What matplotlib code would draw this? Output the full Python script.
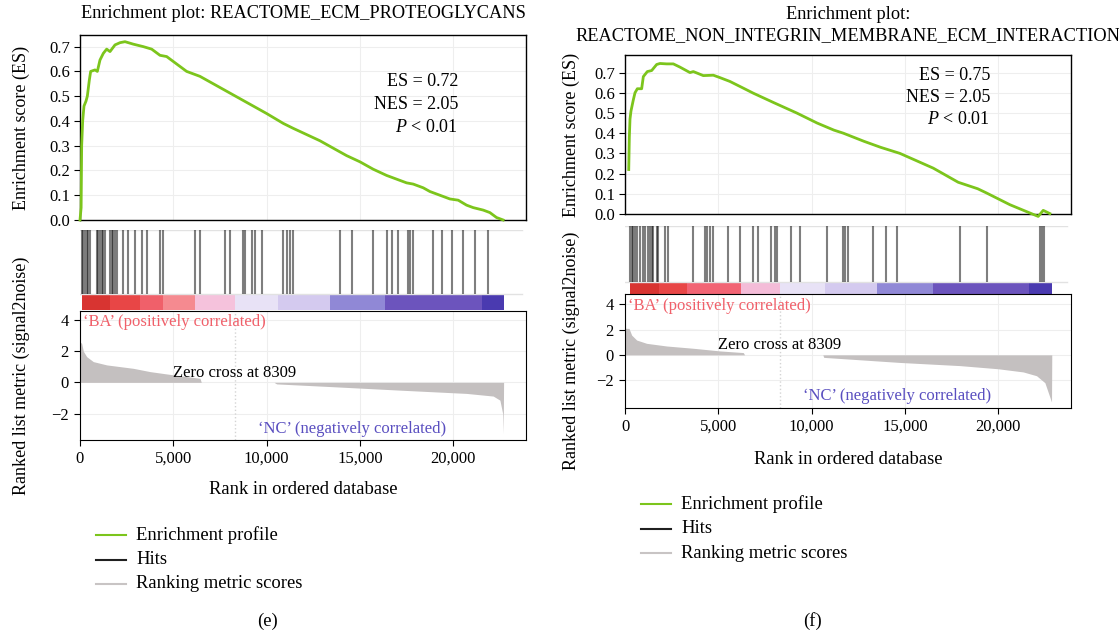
import matplotlib
matplotlib.use("Agg")
import matplotlib.pyplot as plt
from matplotlib.lines import Line2D

plt.rcParams['font.family'] = ['Liberation Serif', 'DejaVu Serif']
plt.rcParams['mathtext.fontset'] = 'custom'
plt.rcParams['mathtext.rm'] = 'Liberation Serif'
plt.rcParams['mathtext.it'] = 'Liberation Serif:italic'

# ---------------- data: panel (e) ----------------
e_title = "Enrichment plot: REACTOME_ECM_PROTEOGLYCANS"
e_stats = ["ES = 0.72", "NES = 2.05", r"$P$ < 0.01"]
e_es_rank = [0, 60, 89, 143, 214, 321, 393, 500, 571, 804, 929, 1071, 1250, 1429, 1607, 1875,
             2143, 2411, 2857, 3393, 3839, 4286, 4643, 5000, 5714, 6429, 7143, 7857, 8571, 9286,
             10000, 10893, 11429, 12143, 12857, 13571, 14286, 15000, 15714, 16429, 16964, 17500,
             17857, 18393, 18750, 19286, 19821, 20268, 20714, 21071, 21607, 21964, 22321, 22679]
e_es = [0.0, 0.05, 0.30, 0.40, 0.46, 0.48, 0.50, 0.565, 0.60, 0.606, 0.60, 0.646, 0.673, 0.69,
        0.68, 0.707, 0.716, 0.72, 0.71, 0.70, 0.69, 0.665, 0.66, 0.64, 0.60, 0.58, 0.55, 0.52,
        0.49, 0.46, 0.43, 0.39, 0.37, 0.345, 0.32, 0.29, 0.26, 0.235, 0.205, 0.18, 0.165, 0.15,
        0.145, 0.13, 0.115, 0.10, 0.085, 0.08, 0.06, 0.05, 0.04, 0.03, 0.01, 0.0]
e_hits = [89, 179, 268, 357, 446, 536, 893, 982, 1071, 1161, 1250, 1339, 1607, 1696, 1786, 1875,
          1964, 2321, 2589, 2946, 3304, 3571, 4286, 4464, 6161, 6429, 7768, 8036, 8750, 8839,
          9196, 9375, 9732, 10893, 11071, 11250, 11429, 13929, 14554, 15714, 16429, 16696, 17054,
          17589, 17679, 17857, 18929, 19375, 19911, 20536, 21161, 21875]
e_pos_rank = [0, 89, 179, 357, 714, 1429, 2857, 3750, 4643, 5714, 6429, 6500]
e_pos_val = [2.6, 2.5, 2.0, 1.65, 1.33, 1.12, 0.9, 0.69, 0.54, 0.37, 0.26, 0.0]
e_neg_rank = [10400, 10536, 13571, 17143, 20714, 22143, 22500, 22650, 22679, 22700]
e_neg_val = [0.0, -0.1, -0.28, -0.5, -0.71, -0.88, -1.14, -2.0, -3.3, 0.0]
e_bar_edges = [89, 1600, 3214, 4464, 6161, 8304, 10625, 13393, 16339, 21518, 22714]
e_bar_colors = ['#d83431', '#e84646', '#f0606a', '#f58a90', '#f5c2dc', '#e8e2f6', '#d4caef',
                '#9088d6', '#6c54bd', '#4a3ab0']
e_es_ylim = (0, 0.747)
e_rk_ylim = (-3.7, 4.58)

# ---------------- data: panel (f) ----------------
f_title = "Enrichment plot:\nREACTOME_NON_INTEGRIN_MEMBRANE_ECM_INTERACTION"
f_stats = ["ES = 0.75", "NES = 2.05", r"$P$ < 0.01"]
f_es_rank = [200, 232, 268, 321, 446, 536, 661, 893, 982, 1196, 1429, 1696, 1875, 2232, 2589,
             2946, 3482, 3661, 4196, 4732, 5089, 5625, 6339, 6875, 8000, 9200, 10300, 11200,
             11700, 12800, 13700, 14732, 16518, 17857, 18900, 19375, 20625, 22143, 22411, 22768]
f_es = [0.22, 0.38, 0.47, 0.51, 0.565, 0.60, 0.62, 0.62, 0.68, 0.705, 0.71, 0.74, 0.745, 0.743,
        0.743, 0.727, 0.70, 0.705, 0.685, 0.687, 0.675, 0.656, 0.623, 0.598, 0.55, 0.50, 0.45,
        0.415, 0.40, 0.36, 0.33, 0.30, 0.227, 0.157, 0.125, 0.104, 0.046, -0.012, 0.018, 0.002]
f_hits = [268, 357, 446, 536, 625, 804, 946, 1071, 1250, 1339, 1429, 1518, 1696, 1786, 2143,
          2321, 3661, 4286, 4375, 4554, 4732, 5536, 6161, 6875, 7143, 7848, 8036, 8132, 8903,
          9375, 10821, 11689, 11786, 11973, 13303, 13982, 14590, 17946, 19375, 22232, 22339, 22441]
f_pos_rank = [0, 214, 357, 625, 1161, 2232, 3661, 5089, 6339, 6407]
f_pos_val = [2.1, 2.09, 1.56, 1.17, 0.91, 0.70, 0.52, 0.31, 0.18, 0.0]
f_neg_rank = [10600, 10650, 12589, 14732, 17946, 20000, 21339, 22054, 22500, 22857, 22870]
f_neg_val = [0.0, -0.2, -0.39, -0.6, -0.85, -1.1, -1.35, -1.65, -2.2, -3.73, 0.0]
f_bar_edges = [263, 1800, 3332, 6214, 8325, 10725, 13511, 16489, 21670, 22857]
f_bar_colors = ['#d83431', '#e84646', '#f26474', '#f4bcd8', '#e8e2f6', '#d4caef', '#9088d6',
                '#6c54bd', '#4a3ab0']
f_es_ylim = (0, 0.787)
f_rk_ylim = (-4.2, 4.77)

x_ticks = [0, 5000, 10000, 15000, 20000]
x_ticklabels = ['0', '5,000', '10,000', '15,000', '20,000']
es_ticks = [0.0, 0.1, 0.2, 0.3, 0.4, 0.5, 0.6, 0.7]
rk_ticks = [-2, 0, 2, 4]
rk_ticklabels = ['\u22122', '0', '2', '4']
zero_cross = 8309
x_max = 23900
legend_labels = ["Enrichment profile", "Hits", "Ranking metric scores"]
legend_colors = ['#7cc51c', '#202020', '#c8c4c4']

GREEN = '#7cc51c'
BA_COLOR = '#f0606a'
NC_COLOR = '#5a4fc0'
FILL = '#c4c0c0'
GRID = '#eeeeee'
FS = 12

W, H = 1119, 635
fig = plt.figure(figsize=(W / 100, H / 100), dpi=100)


def rect(x0, y0, x1, y1):
    return [x0 / W, 1 - y1 / H, (x1 - x0) / W, (y1 - y0) / H]


def panel(x0, x1, es_y, hit_y, rk_y, bar_frac, title, title_y, stats, stats_xy,
          es_rank, es, hits, pos_rank, pos_val, neg_rank, neg_val, bar_edges, bar_colors,
          es_ylim, rk_ylim, ylab_x, xlab_y, ba_y, zc_y, nc_y, legend_x, legend_y, letter, letter_y):
    # ES axes
    ax1 = fig.add_axes(rect(x0, es_y[0], x1, es_y[1]))
    ax1.plot(es_rank, es, color=GREEN, lw=2.0, clip_on=False, zorder=3)
    ax1.set_xlim(0, x_max)
    ax1.set_ylim(*es_ylim)
    ax1.set_yticks(es_ticks)
    ax1.set_yticklabels(['%.1f' % t for t in es_ticks])
    ax1.set_xticks(x_ticks)
    ax1.tick_params(axis='x', length=0, labelbottom=False)
    ax1.tick_params(axis='y', direction='out', length=4, width=0.8, labelsize=FS, pad=3)
    ax1.grid(True, color=GRID, lw=0.8)
    ax1.set_axisbelow(True)
    for s in ax1.spines.values():
        s.set_linewidth(1.0)
    tx, ty = stats_xy
    for i, s in enumerate(stats):
        fig.text(tx / W, 1 - (ty + i * 22.5) / H, s, ha='right', va='center', fontsize=FS + 1)
    fig.text(((x0 + x1) / 2) / W, 1 - title_y / H, title, ha='center', va='center',
             fontsize=FS + 1.2, linespacing=1.25)
    fig.text(ylab_x / W, 1 - ((es_y[0] + es_y[1]) / 2) / H, "Enrichment score (ES)",
             rotation=90, ha='center', va='center', fontsize=FS + 1)

    # hits + colour bar
    ax2 = fig.add_axes(rect(x0, hit_y[0], x1, hit_y[1]))
    ax2.set_xlim(0, x_max)
    ax2.set_ylim(0, 1)
    ax2.axis('off')
    ax2.axhline(1.0, color='#e2e2e2', lw=1.0, xmax=0.99)
    ax2.axhline(bar_frac, color='#e2e2e2', lw=1.0, xmax=0.99)
    ax2.vlines(hits, bar_frac, 1.0, color='black', alpha=0.5, lw=1.5)
    for i, c in enumerate(bar_colors):
        ax2.broken_barh([(bar_edges[i], bar_edges[i + 1] - bar_edges[i])], (0, bar_frac),
                        facecolor=c, edgecolor='none')

    # ranked list metric
    ax3 = fig.add_axes(rect(x0, rk_y[0], x1, rk_y[1]))
    ax3.fill_between(pos_rank, pos_val, 0, color=FILL, lw=0)
    ax3.fill_between(neg_rank, neg_val, 0, color=FILL, lw=0)
    ax3.axvline(zero_cross, color='#d4d4d4', ls=':', lw=1.0)
    ax3.set_xlim(0, x_max)
    ax3.set_ylim(*rk_ylim)
    ax3.set_yticks(rk_ticks)
    ax3.set_yticklabels(rk_ticklabels)
    ax3.set_xticks(x_ticks)
    ax3.set_xticklabels(x_ticklabels)
    ax3.tick_params(direction='out', length=4, width=0.8, labelsize=FS, pad=4)
    ax3.grid(True, color=GRID, lw=0.8)
    ax3.set_axisbelow(True)
    ax3.text(150, ba_y, "\u2018BA\u2019 (positively correlated)", color=BA_COLOR,
             fontsize=FS, ha='left', va='center')
    ax3.text(zero_cross, zc_y, "Zero cross at 8309", color='black', fontsize=FS,
             ha='center', va='center')
    ax3.text(14600, nc_y, "\u2018NC\u2019 (negatively correlated)", color=NC_COLOR,
             fontsize=FS, ha='center', va='center')
    fig.text(ylab_x / W, 1 - ((rk_y[0] + rk_y[1]) / 2) / H, "Ranked list metric (signal2noise)",
             rotation=90, ha='center', va='center', fontsize=FS + 1)
    fig.text(((x0 + x1) / 2) / W, 1 - xlab_y / H, "Rank in ordered database",
             ha='center', va='center', fontsize=FS + 1.4)

    # legend
    for i, (lab, col) in enumerate(zip(legend_labels, legend_colors)):
        yy = legend_y + i * 24.5
        fig.add_artist(Line2D([legend_x / W, (legend_x + 30) / W], [1 - yy / H, 1 - yy / H],
                              color=col, lw=1.5))
        fig.text((legend_x + 40) / W, 1 - yy / H, lab, ha='left', va='center', fontsize=FS + 1.4)
    fig.text(((x0 + x1) / 2 - 35) / W, 1 - letter_y / H, letter, ha='center', va='center',
             fontsize=FS + 1.4)


panel(80, 526, (35, 220), (230, 310), (311, 440), 0.2, e_title, 14, e_stats, (458, 82),
      e_es_rank, e_es, e_hits, e_pos_rank, e_pos_val, e_neg_rank, e_neg_val,
      e_bar_edges, e_bar_colors, e_es_ylim, e_rk_ylim, 21, 490, 3.85, 0.6, -3.0,
      96, 535, "(e)", 621)

panel(625, 1071, (55, 214), (226, 294), (294.5, 408), 0.18, f_title, 25, f_stats, (990, 75),
      f_es_rank, f_es, f_hits, f_pos_rank, f_pos_val, f_neg_rank, f_neg_val,
      f_bar_edges, f_bar_colors, f_es_ylim, f_rk_ylim, 571, 460, 3.9, 0.8, -3.26,
      641, 504, "(f)", 621)

fig.savefig("out.png", dpi=100)
